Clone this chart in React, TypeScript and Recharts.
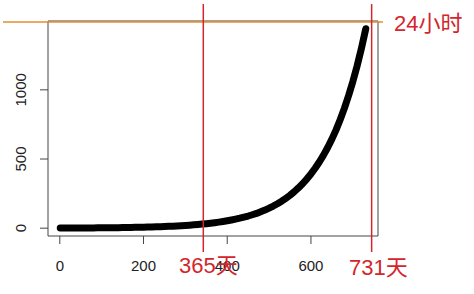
import { LineChart, Line, XAxis, YAxis, ReferenceLine, ReferenceArea } from 'recharts'

// day -> minutes per day (1% more each day)
const days = [
  1, 10, 20, 30, 40, 50, 60, 70, 80, 90, 100, 110, 120, 130, 140, 150, 160, 170, 180, 190,
  200, 210, 220, 230, 240, 250, 260, 270, 280, 290, 300, 310, 320, 330, 340, 350, 360, 370,
  380, 390, 400, 410, 420, 430, 440, 450, 460, 470, 480, 490, 500, 510, 520, 530, 540, 550,
  560, 570, 580, 590, 600, 610, 620, 630, 640, 650, 660, 670, 680, 690, 700, 710, 720, 730, 731,
]
const minutes = [
  1.01, 1.1, 1.22, 1.35, 1.49, 1.64, 1.82, 2.01, 2.22, 2.45, 2.7, 2.99, 3.3, 3.65, 4.03, 4.45,
  4.91, 5.43, 6.0, 6.62, 7.32, 8.08, 8.93, 9.86, 10.9, 12.0, 13.3, 14.7, 16.2, 17.9, 19.8,
  21.9, 24.1, 26.7, 29.5, 32.5, 36.0, 39.7, 43.9, 48.5, 53.5, 59.1, 65.3, 72.1, 79.7, 88.0,
  97.2, 107, 119, 131, 145, 160, 177, 195, 216, 238, 263, 291, 321, 355, 392, 433, 478, 528,
  583, 644, 711, 786, 868, 959, 1059, 1170, 1292, 1428, 1442,
]
const xTicks = [0, 200, 400, 600]
const yTicks = [0, 500, 1000]

const data = days.map((d, i) => ({ day: d, min: minutes[i] }))

const X_DOMAIN: [number, number] = [-28.2, 760.2]
const Y_DOMAIN: [number, number] = [-56.5, 1497.6]
const RED = '#d3262c'
const ORANGE = '#e58c2e'
const FONT = 'Liberation Sans, Arial, sans-serif'
const CJK = 'Liberation Sans, Noto Sans CJK SC, sans-serif'

const XTick = ({ x, y, payload }: any) => (
  <text x={x} y={y + 25} textAnchor="middle" fontSize={15} fill="#222" fontFamily={FONT}>
    {payload.value}
  </text>
)

const YTick = ({ x, y, payload }: any) => (
  <text
    x={x - 12}
    y={y}
    transform={`rotate(-90, ${x - 12}, ${y})`}
    textAnchor="middle"
    fontSize={15}
    fill="#222"
    fontFamily={FONT}
  >
    {payload.value}
  </text>
)

export default function App() {
  return (
    <div style={{ position: 'absolute', left: 0, top: 0, width: 474, height: 294, background: '#fff' }}>
      <LineChart width={474} height={294} data={data} margin={{ top: 21, right: 96, bottom: 28, left: 0 }}>
        <XAxis
          dataKey="day"
          type="number"
          domain={X_DOMAIN}
          ticks={xTicks}
          allowDataOverflow
          axisLine={false}
          tickSize={8}
          height={30}
          stroke="#444"
          tick={<XTick />}
        />
        <YAxis
          type="number"
          domain={Y_DOMAIN}
          ticks={yTicks}
          allowDataOverflow
          axisLine={false}
          tickSize={8}
          width={48}
          stroke="#444"
          tick={<YTick />}
        />
        <ReferenceArea x1={X_DOMAIN[0]} x2={X_DOMAIN[1]} y1={Y_DOMAIN[0]} y2={Y_DOMAIN[1]} fill="none" stroke="#444" strokeWidth={1} />
        <Line
          dataKey="min"
          type="linear"
          stroke="#000"
          strokeWidth={7}
          strokeLinecap="round"
          strokeLinejoin="round"
          dot={false}
          isAnimationActive={false}
        />
        <ReferenceLine
          segment={[{ x: -135.7, y: 1490 }, { x: 772, y: 1490 }]}
          stroke={ORANGE}
          strokeWidth={1.5}
          ifOverflow="visible"
        />
        <ReferenceLine
          segment={[{ x: 342.8, y: 1620 }, { x: 342.8, y: -172 }]}
          stroke={RED}
          strokeWidth={1.5}
          ifOverflow="visible"
        />
        <ReferenceLine
          segment={[{ x: 745, y: 1620 }, { x: 745, y: -172 }]}
          stroke={RED}
          strokeWidth={1.5}
          ifOverflow="visible"
        />
      </LineChart>
      <svg width={474} height={294} style={{ position: 'absolute', left: 0, top: 0, pointerEvents: 'none' }}>
        <text x={394} y={31} fontSize={22} fill={RED} fontFamily={CJK}>24小时</text>
        <text x={179} y={273} fontSize={22} fill={RED} fontFamily={CJK}>365天</text>
        <text x={349} y={275} fontSize={22} fill={RED} fontFamily={CJK}>731天</text>
      </svg>
    </div>
  )
}
